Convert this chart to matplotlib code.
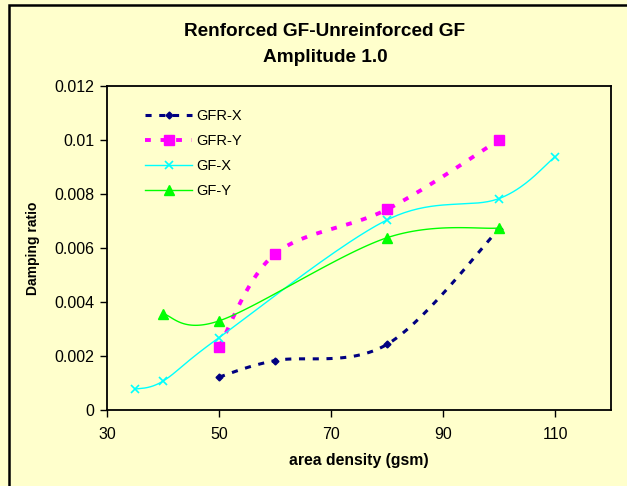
import numpy as np
import matplotlib
matplotlib.use('Agg')
import matplotlib.pyplot as plt
from matplotlib.patches import Rectangle

plt.rcParams['font.family'] = ['Liberation Sans', 'DejaVu Sans']

# Data
gfr_x_x = [50, 60, 80, 100]
gfr_x_y = [0.00122, 0.00183, 0.00243, 0.0067]

gfr_y_x = [50, 60, 80, 100]
gfr_y_y = [0.00234, 0.00578, 0.00743, 0.0100]

gf_x_x = [35, 40, 50, 80, 100, 110]
gf_x_y = [0.00077, 0.00107, 0.00268, 0.00704, 0.00783, 0.00938]

gf_y_x = [40, 50, 80, 100]
gf_y_y = [0.00356, 0.0033, 0.00638, 0.00674]

x_ticks = [30, 50, 70, 90, 110]
y_ticks = [0, 0.002, 0.004, 0.006, 0.008, 0.01, 0.012]
y_tick_labels = ['0', '0.002', '0.004', '0.006', '0.008', '0.01', '0.012']


def smooth(xs, ys, n=40):
    # Excel-like smoothed line (Catmull-Rom style bezier segments)
    p = np.column_stack([xs, ys]).astype(float)
    out = []
    for i in range(len(p) - 1):
        p0 = p[i - 1] if i > 0 else p[i]
        p1 = p[i]
        p2 = p[i + 1]
        p3 = p[i + 2] if i + 2 < len(p) else p[i + 1]
        c1 = p1 + (p2 - p0) / 6
        c2 = p2 - (p3 - p1) / 6
        t = np.linspace(0, 1, n)[:, None]
        seg = ((1 - t) ** 3) * p1 + 3 * ((1 - t) ** 2) * t * c1 + 3 * (1 - t) * t ** 2 * c2 + t ** 3 * p2
        out.append(seg if i == 0 else seg[1:])
    out = np.vstack(out)
    return out[:, 0], out[:, 1]


bg = '#FFFFCC'
fig = plt.figure(figsize=(6.27, 4.86), dpi=100, facecolor=bg)
ax = fig.add_axes([107 / 627, 1 - 410 / 486, 504 / 627, 324 / 486])
ax.set_facecolor(bg)

series = [
    (gfr_x_x, gfr_x_y, '#000080', (0, (2, 2.5)), 2.2, 'D', 3.5, 'GFR-X'),
    (gfr_y_x, gfr_y_y, '#FF00FF', (0, (1.5, 2.5)), 2.8, 's', 7, 'GFR-Y'),
    (gf_x_x, gf_x_y, '#00FFFF', '-', 1.0, 'x', 6, 'GF-X'),
    (gf_y_x, gf_y_y, '#00FF00', '-', 1.0, '^', 7, 'GF-Y'),
]

handles = []
for xs, ys, c, ls, lw, m, ms, lab in series:
    sx, sy = smooth(xs, ys)
    ax.plot(sx, sy, color=c, linestyle=ls, lw=lw)
    ax.plot(xs, ys, linestyle='none', marker=m, markersize=ms, color=c,
            markeredgecolor=c, markeredgewidth=1.2 if m == 'x' else 1)
    h, = ax.plot([], [], color=c, linestyle=ls, lw=lw, marker=m, markersize=ms,
                 markeredgecolor=c, markeredgewidth=1.2 if m == 'x' else 1, label=lab)
    handles.append(h)

ax.set_xlim(30, 120)
ax.set_ylim(0, 0.012)
ax.set_xticks(x_ticks)
ax.set_yticks(y_ticks)
ax.set_yticklabels(y_tick_labels)
ax.tick_params(labelsize=11.5, length=5, width=1, direction='out')
ax.tick_params(axis='x', pad=7)
ax.tick_params(axis='y', pad=4)
for s in ax.spines.values():
    s.set_linewidth(1.3)

ax.legend(handles=handles, loc='upper left', bbox_to_anchor=(0.05, 0.97),
          frameon=False, fontsize=10.5, handlelength=3.2, labelspacing=0.75,
          handletextpad=0.3)

fig.text(325 / 627, 1 - 32 / 486, 'Renforced GF-Unreinforced GF', ha='center', va='center',
         fontsize=13.7, fontweight='bold')
fig.text(325 / 627, 1 - 58 / 486, 'Amplitude 1.0', ha='center', va='center',
         fontsize=13.7, fontweight='bold')
ax.set_xlabel('area density (gsm)', fontsize=11.3, fontweight='bold', labelpad=8)
ax.set_ylabel('Damping ratio', fontsize=10, fontweight='bold', labelpad=10)

# outer chart border
fig.patches.append(Rectangle((9 / 627, -0.1), 1.2, 1.1 - 5 / 486, transform=fig.transFigure,
                             fill=False, edgecolor='black', lw=1.8))

fig.savefig('out.png', dpi=100, facecolor=bg)
